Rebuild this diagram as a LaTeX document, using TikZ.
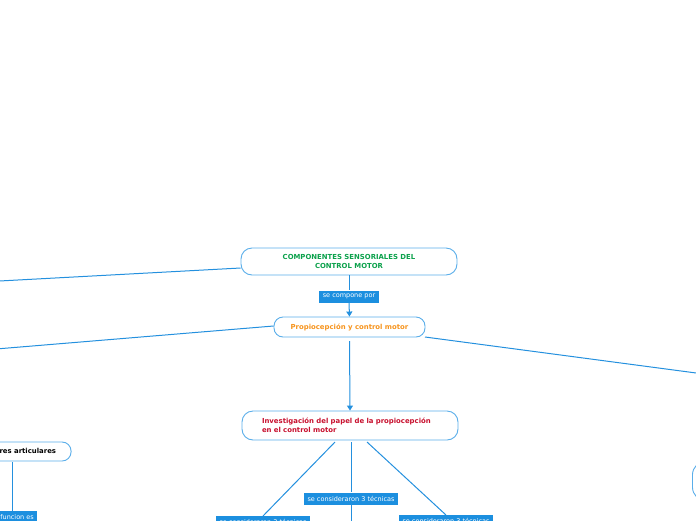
\documentclass[tikz,border=0pt]{standalone}
\usepackage{fontspec}
\setmainfont{DejaVu Sans}
\usetikzlibrary{arrows.meta}
\definecolor{lineblue}{HTML}{2490DE}
\definecolor{boxblue}{HTML}{5AAEEA}
\definecolor{tagblue}{HTML}{1C8FDF}
\definecolor{tgreen}{HTML}{0BA14B}
\definecolor{torange}{HTML}{F7941D}
\definecolor{tred}{HTML}{C8102E}
\tikzset{
  topic/.style={draw=boxblue, line width=0.9pt, fill=white, rounded corners=11pt, font=\fontsize{6.9}{8.6}\selectfont\bfseries, inner sep=0pt, align=center},
  tag/.style={fill=tagblue, text=white, font=\fontsize{6.5}{7.5}\selectfont, inner xsep=3.5pt, inner ysep=0pt, minimum height=12pt},
  conn/.style={draw=lineblue, line width=1pt},
  arr/.style={conn, -{Triangle[width=6pt,length=5pt]}}
}
\begin{document}
\begin{tikzpicture}[x=1pt,y=-1pt]
\useasboundingbox (0,0) rectangle (696,520);
\clip (0,0) rectangle (696,520);
% nodes
\node[topic, text=tgreen, minimum width=216pt, minimum height=27pt] (A) at (349,261.5) {COMPONENTES SENSORIALES DEL\\CONTROL MOTOR};
\node[topic, text=torange, minimum width=151pt, minimum height=20pt, rounded corners=9pt] (B) at (349.5,327) {Propiocepción y control motor};
\node[topic, text=tred, minimum width=216pt, minimum height=29pt, text width=176pt, align=left, inner xsep=20pt] (C) at (350,425.5) {Investigación del papel de la propiocepción\\en el control motor};
\node[topic, text=black, minimum height=19pt, rounded corners=9pt, inner xsep=15pt, anchor=east] (D) at (71.5,451.5) {Receptores articulares};
\node[topic, minimum width=60pt, minimum height=40pt, rounded corners=14pt, anchor=west] (E) at (692,481) {};
% tags
\node[tag] (t1) at (349,296.5) {se compone por};
\node[tag] (t2) at (351,498.5) {se consideraron 3 técnicas};
\node[tag, anchor=north] (t3) at (263,516) {se consideraron 3 técnicas};
\node[tag, anchor=north] (t4) at (446,515) {se consideraron 3 técnicas};
\node[tag, anchor=north east] (t5) at (37.5,511) {funcion es};
% off-canvas coordinates
\coordinate (L1) at (-10,281.5);
\coordinate (L2) at (-10,349.5);
\coordinate (R1) at (706,374.3);
% connectors
\draw[conn] (A.west |- 0,268) -- (L1);
\draw[conn] (B.west |- 0,326) -- (L2);
\draw[conn] (425,337) -- (R1);
\draw[conn] (A.south) -- (t1.north);
\draw[arr] (t1.south) -- (B.north);
\draw[arr] (B.south |- 0,341) -- (C.north);
\draw[conn] (335,442) -- (t3.north);
\draw[conn] (351,442) -- (t2.north);
\draw[conn] (t2.south) -- (351,525);
\draw[conn] (367,442) -- (t4.north);
\draw[conn] (12,462) -- (12,511);
\end{tikzpicture}
\end{document}
